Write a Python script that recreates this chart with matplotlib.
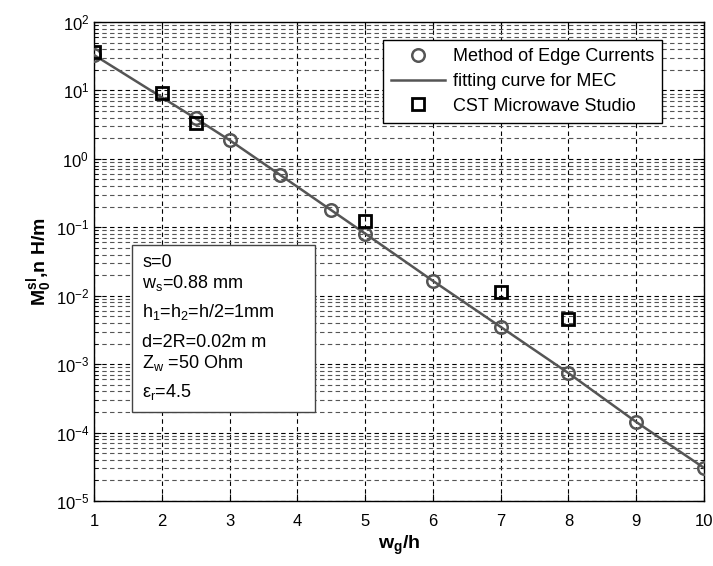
import numpy as np
import matplotlib
matplotlib.use("Agg")
import matplotlib.pyplot as plt
from matplotlib.patches import Rectangle
from matplotlib.ticker import LogLocator, NullFormatter

plt.rcParams['font.family'] = ['Liberation Sans', 'DejaVu Sans']
plt.rcParams['mathtext.fontset'] = 'custom'
plt.rcParams['mathtext.rm'] = 'Liberation Sans'
plt.rcParams['mathtext.it'] = 'Liberation Sans'
plt.rcParams['mathtext.bf'] = 'Liberation Sans:bold'

# ======================
# DATA
# ======================
# Method of Edge Currents (circles) and its fitting curve
mec_x = [1, 2.5, 3, 3.75, 4.5, 5, 6, 7, 8, 9, 10]
mec_y = [33, 3.9, 1.88, 0.58, 0.178, 0.081, 0.0165, 0.0035, 7.4e-4, 1.43e-4, 3.05e-5]

# CST Microwave Studio (squares)
cst_x = [1, 2, 2.5, 5, 7, 8]
cst_y = [36.4, 9.2, 3.3, 0.124, 0.0112, 0.0046]

x_ticks = [1, 2, 3, 4, 5, 6, 7, 8, 9, 10]

# parameter box lines
param_lines = ["s=0",
               "w$_\\mathregular{s}$=0.88 mm",
               "h$_\\mathregular{1}$=h$_\\mathregular{2}$=h/2=1mm",
               "d=2R=0.02m m",
               "Z$_\\mathregular{w}$ =50 Ohm",
               "\u03b5$_\\mathregular{r}$=4.5"]
param_ypos = [0.497, 0.455, 0.395, 0.330, 0.288, 0.228]   # axes fraction

# ======================
# FIGURE
# ======================
fig = plt.figure(figsize=(7.13, 5.66), dpi=100)
ax = fig.add_axes([0.1318, 0.1148, 0.8556, 0.8463])

ax.semilogy(mec_x, mec_y, linestyle='none', marker='o', markersize=9,
            markerfacecolor='none', markeredgecolor='#555555', markeredgewidth=1.8,
            label='Method of Edge Currents', zorder=4)
ax.semilogy(mec_x, mec_y, color='#555555', linewidth=1.8,
            label='fitting curve for MEC', zorder=3)
ax.semilogy(cst_x, cst_y, linestyle='none', marker='s', markersize=8.5,
            markerfacecolor='none', markeredgecolor='black', markeredgewidth=2,
            label='CST Microwave Studio', zorder=5)

ax.set_xlim(1, 10)
ax.set_ylim(1e-5, 1e2)
ax.set_xticks(x_ticks)
ax.set_xticklabels([str(v) for v in x_ticks])
ax.yaxis.set_major_locator(LogLocator(base=10, numticks=10))
ax.yaxis.set_minor_locator(LogLocator(base=10, subs=np.arange(2, 10), numticks=20))
ax.yaxis.set_minor_formatter(NullFormatter())

# dashed grid, MATLAB style
ax.grid(True, which='major', linestyle=(0, (4, 3)), color='black', linewidth=0.8)
ax.grid(True, which='minor', axis='y', linestyle=(0, (4, 3)), color='#555555', linewidth=0.8)

ax.tick_params(which='both', direction='in', top=True, right=True, labelsize=12)
ax.tick_params(which='major', length=5)
ax.tick_params(which='minor', length=3)
ax.tick_params(axis='x', which='major', pad=9)
for s in ax.spines.values():
    s.set_linewidth(1.0)

ax.set_xlabel('w$_\\mathregular{g}$/h', fontsize=14, fontweight='bold', labelpad=4)
ax.set_ylabel('M$_\\mathregular{0}^\\mathregular{sl}$,n H/m', fontsize=14,
              fontweight='bold', labelpad=1)

leg = ax.legend(loc='upper right', bbox_to_anchor=(0.931, 0.962), fontsize=13,
                fancybox=False, framealpha=1, edgecolor='black', borderaxespad=0,
                handlelength=3, handletextpad=0.4, labelspacing=0.42, borderpad=0.45)
leg.get_frame().set_linewidth(1.0)

# parameter box
box = Rectangle((0.062, 0.186), 0.30, 0.348, transform=ax.transAxes,
                facecolor='white', edgecolor='#444444', linewidth=1.0, zorder=6)
ax.add_patch(box)
for line, yp in zip(param_lines, param_ypos):
    ax.text(0.079, yp, line, transform=ax.transAxes, fontsize=13,
            va='center', ha='left', zorder=7)

fig.savefig('out.png', dpi=100)
